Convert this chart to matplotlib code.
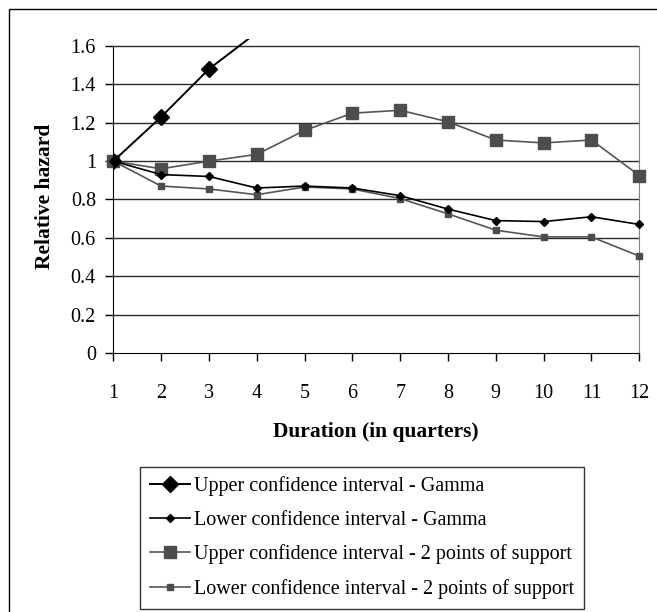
import matplotlib
matplotlib.use("Agg")
import matplotlib.pyplot as plt
import numpy as np
from matplotlib.patches import Rectangle

plt.rcParams['font.family'] = ['Liberation Serif', 'DejaVu Serif']

quarters = [1, 2, 3, 4, 5, 6, 7, 8, 9, 10, 11, 12]
upper_gamma = [1.0, 1.23, 1.48, 1.67, np.nan, np.nan, np.nan, np.nan, np.nan, np.nan, np.nan, np.nan]
lower_gamma = [1.0, 0.93, 0.92, 0.86, 0.87, 0.86, 0.82, 0.75, 0.69, 0.685, 0.71, 0.67]
upper_2pts = [1.0, 0.96, 1.00, 1.035, 1.16, 1.25, 1.265, 1.205, 1.11, 1.095, 1.11, 0.925]
lower_2pts = [1.0, 0.87, 0.855, 0.825, 0.865, 0.855, 0.805, 0.725, 0.64, 0.605, 0.605, 0.505]
y_ticks = [0, 0.2, 0.4, 0.6, 0.8, 1.0, 1.2, 1.4, 1.6]
y_tick_labels = ['0', '0.2', '0.4', '0.6', '0.8', '1', '1.2', '1.4', '1.6']
series_names = ['Upper confidence interval - Gamma',
                'Lower confidence interval - Gamma',
                'Upper confidence interval - 2 points of support',
                'Lower confidence interval - 2 points of support']

W, H = 657, 612
fig = plt.figure(figsize=(W / 100, H / 100), dpi=100)

# outer frame
fig.patches.append(Rectangle((8.5 / W, -0.1), 1.2, (H - 8.5) / H + 0.1,
                             transform=fig.transFigure, fill=False,
                             edgecolor='black', linewidth=1.0))

left, right = 113.3, 639.3
top0, bottom = 46.0, 353.0
ymax = 1.635
top = bottom - (bottom - top0) * ymax / 1.6
ax = fig.add_axes([left / W, 1 - bottom / H, (right - left) / W, (bottom - top) / H])
ax.set_xlim(1, 12)
ax.set_ylim(0, ymax)
ax.set_facecolor('none')

for yv in y_ticks[1:]:
    ax.axhline(yv, color='#2a2a2a', linewidth=1.0, zorder=1)

visible_upper = [i for i, v in enumerate(upper_gamma) if np.isfinite(v) and v <= 1.6]
ax.plot(quarters, upper_gamma, color='black', linewidth=1.4, marker='D', markersize=8.5,
        markevery=visible_upper,
        markerfacecolor='black', markeredgecolor='black', label=series_names[0], zorder=5,
        clip_on=True)
ax.plot(quarters, lower_gamma, color='black', linewidth=1.2, marker='D', markersize=4,
        markerfacecolor='black', markeredgecolor='black', label=series_names[1], zorder=4,
        clip_on=False)
ax.plot(quarters, upper_2pts, color='#555555', linewidth=1.2, marker='s', markersize=8.6,
        markerfacecolor='#4d4d4d', markeredgecolor='#4d4d4d', label=series_names[2], zorder=3,
        clip_on=False)
ax.plot(quarters, lower_2pts, color='#555555', linewidth=1.2, marker='s', markersize=4.5,
        markerfacecolor='#4d4d4d', markeredgecolor='#4d4d4d', label=series_names[3], zorder=3,
        clip_on=False)

ax.spines['top'].set_visible(False)
ax.spines['right'].set_color('#808080')
ax.spines['right'].set_bounds(0, 1.6)
ax.spines['left'].set_bounds(0, 1.6)
ax.spines['left'].set_color('black')
ax.spines['bottom'].set_color('black')

ax.set_yticks(y_ticks)
ax.set_yticklabels(y_tick_labels)
ax.set_xticks(quarters)
ax.set_xticklabels([str(q) for q in quarters])
ax.tick_params(axis='y', direction='out', length=6, width=1, labelsize=14.5, pad=6.5)
ax.tick_params(axis='x', direction='out', length=5.5, width=1, labelsize=14.5, pad=16.5)

ax.set_ylabel('Relative hazard', fontsize=15.5, fontweight='bold', labelpad=11)
ax.set_xlabel('Duration (in quarters)', fontsize=15.5, fontweight='bold', labelpad=14)

leg = fig.legend(loc='upper left', bbox_to_anchor=(139.5 / W, 1 - 466.5 / H),
                 frameon=True, fancybox=False, fontsize=14.5, handlelength=2.0,
                 handletextpad=0.2, labelspacing=0.72, borderpad=0.5,
                 borderaxespad=0)
leg.get_frame().set_edgecolor('black')
leg.get_frame().set_linewidth(1.0)

fig.savefig('out.png', dpi=100)
